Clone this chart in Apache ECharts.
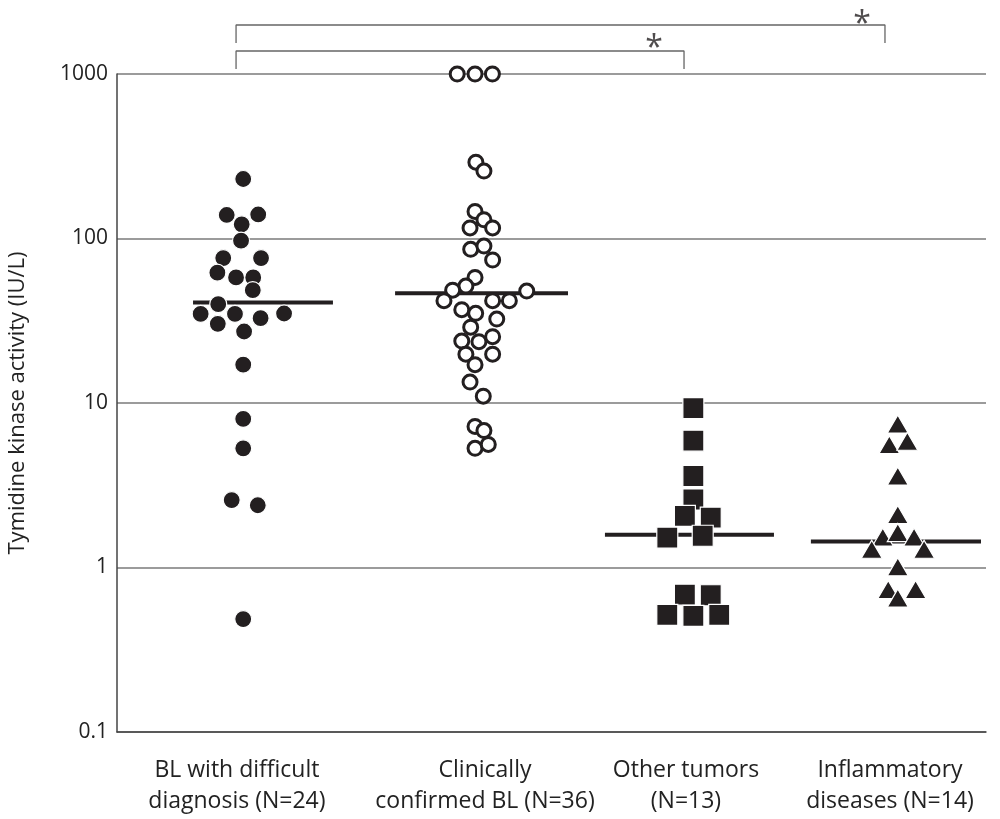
<!DOCTYPE html>
<html>
<head>
<meta charset="utf-8">
<style>
html,body{margin:0;padding:0;background:#fff;}
#chart{width:1000px;height:819px;}
</style>
<script src="https://cdn.jsdelivr.net/npm/echarts@6/dist/echarts.min.js"></script>
</head>
<body>
<div id="chart"></div>
<script>
// Category labels and their positions (in category units on the hidden x scale)
const categories = [
  'BL with difficult\ndiagnosis (N=24)',
  'Clinically\nconfirmed BL (N=36)',
  'Other tumors\n(N=13)',
  'Inflammatory\ndiseases (N=14)'
];
const categoryPos = [0.552, 1.694, 2.619, 3.558];

// [jittered x in category units, TK activity IU/L]
const difficultBL = [
  [0.581, 230], [0.505, 139], [0.650, 140], [0.574, 122], [0.571, 97],
  [0.489, 76], [0.663, 76], [0.462, 62], [0.548, 58], [0.627, 58],
  [0.625, 48.5], [0.466, 39.9], [0.385, 34.8], [0.543, 34.8], [0.769, 35],
  [0.464, 30.3], [0.661, 32.8], [0.585, 27.2], [0.581, 17.1], [0.581, 8.0],
  [0.581, 5.3], [0.528, 2.57], [0.648, 2.39], [0.581, 0.486]
];
const confirmedBL = [
  [1.566, 1000], [1.648, 1000], [1.728, 1000], [1.652, 291], [1.689, 257],
  [1.648, 146], [1.689, 130], [1.625, 116], [1.729, 116], [1.628, 86],
  [1.689, 90], [1.729, 74], [1.648, 58], [1.606, 51.4], [1.545, 48.5],
  [1.505, 41.9], [1.886, 47.9], [1.729, 41.9], [1.806, 41.9], [1.587, 36.9],
  [1.651, 35.1], [1.748, 32.4], [1.628, 28.9], [1.729, 25.3], [1.587, 23.8],
  [1.666, 23.6], [1.606, 19.8], [1.729, 19.8], [1.648, 17.1], [1.625, 13.4],
  [1.686, 11.0], [1.648, 7.2], [1.689, 6.8], [1.648, 5.3], [1.709, 5.6]
];
const otherTumors = [
  [2.653, 9.3], [2.653, 5.9], [2.653, 3.6], [2.653, 2.59], [2.614, 2.06],
  [2.733, 2.01], [2.533, 1.52], [2.696, 1.56], [2.614, 0.684], [2.733, 0.678],
  [2.533, 0.515], [2.653, 0.508], [2.772, 0.515]
];
const inflammatory = [
  [3.594, 7.46], [3.555, 5.58], [3.638, 5.86], [3.594, 3.6], [3.594, 2.10],
  [3.525, 1.53], [3.594, 1.63], [3.669, 1.53], [3.474, 1.29], [3.715, 1.29],
  [3.594, 1.01], [3.550, 0.735], [3.676, 0.735], [3.594, 0.653]
];

// medians and the x extent of each median bar
const medians = [40.8, 46.4, 1.58, 1.44];
const medianSpans = [[0.350, 0.994], [1.280, 2.076], [2.246, 3.024], [3.194, 3.977]];

// significance brackets: [x from, x to, bracket top value, leg bottom value], star position
const brackets = [
  { x0: 0.548, x1: 2.610, top: 1380, foot: 1073, starX: 2.472, starY: 1587 },
  { x0: 0.548, x1: 3.535, top: 1986, foot: 1543, starX: 3.429, starY: 2221 }
];

const FONT = "'Open Sans', sans-serif";
const INK = '#231f20';

const chart = echarts.init(document.getElementById('chart'), null, { renderer: 'canvas' });

const series = [];
medians.forEach(function (m, i) {
  series.push({
    type: 'line', data: [[medianSpans[i][0], m], [medianSpans[i][1], m]],
    symbol: 'none', lineStyle: { color: INK, width: 4 }, z: 3, silent: true
  });
});
series.push({
  type: 'scatter', data: difficultBL, symbol: 'circle', symbolSize: 17,
  itemStyle: { color: INK, borderColor: '#fff', borderWidth: 1.2, opacity: 1 }, z: 4
});
series.push({
  type: 'scatter', data: confirmedBL, symbol: 'circle', symbolSize: 14,
  itemStyle: { color: '#fff', borderColor: INK, borderWidth: 3, opacity: 1 }, z: 4
});
series.push({
  type: 'scatter', data: otherTumors, symbol: 'rect', symbolSize: 21,
  itemStyle: { color: INK, borderColor: '#fff', borderWidth: 1.2, opacity: 1 }, z: 4
});
series.push({
  type: 'scatter', data: inflammatory, symbol: 'triangle', symbolSize: [21, 18],
  itemStyle: { color: INK, borderColor: '#fff', borderWidth: 1.2, opacity: 1 }, z: 4
});
brackets.forEach(function (b) {
  series.push({
    type: 'line', clip: false, silent: true, symbol: 'none',
    data: [[b.x0, b.foot], [b.x0, b.top], [b.x1, b.top], [b.x1, b.foot]],
    lineStyle: { color: '#666', width: 1.3 }
  });
  series.push({
    type: 'scatter', clip: false, silent: true, symbolSize: 0,
    data: [[b.starX, b.starY]],
    label: { show: true, position: 'inside', formatter: '*', fontSize: 32, fontFamily: FONT, color: INK, offset: [0, 8] }
  });
});

chart.setOption({
  backgroundColor: '#fff',
  animation: false,
  grid: { left: 117, right: 14, top: 74, bottom: 87, containLabel: false, outerBoundsMode: 'none' },
  xAxis: {
    type: 'value', min: 0, max: 4,
    splitLine: { show: false },
    axisTick: { show: false },
    axisLine: { show: true, lineStyle: { color: '#444', width: 1.5 } },
    axisLabel: {
      customValues: categoryPos,
      formatter: function (v) {
        let best = 0;
        categoryPos.forEach(function (p, i) { if (Math.abs(p - v) < Math.abs(categoryPos[best] - v)) best = i; });
        return categories[best];
      },
      margin: 23, fontSize: 23, lineHeight: 31, color: '#222', fontFamily: FONT
    }
  },
  yAxis: {
    type: 'log', logBase: 10, min: 0.1, max: 1000,
    name: 'Tymidine kinase activity (IU/L)',
    nameLocation: 'middle', nameGap: 99, nameRotate: 90, nameMoveOverlap: false,
    nameTextStyle: { fontSize: 22, color: '#222', fontFamily: FONT, verticalAlign: 'middle' },
    axisLine: { show: true, lineStyle: { color: '#444', width: 1.5 } },
    axisTick: { show: false },
    axisLabel: {
      margin: 9, fontSize: 21, color: '#222', fontFamily: FONT,
      formatter: function (v) { return String(Math.round(v * 10) / 10); }
    },
    splitLine: { show: true, lineStyle: { color: '#7a7a7a', width: 1.5 } }
  },
  series: series
});
</script>
</body>
</html>
